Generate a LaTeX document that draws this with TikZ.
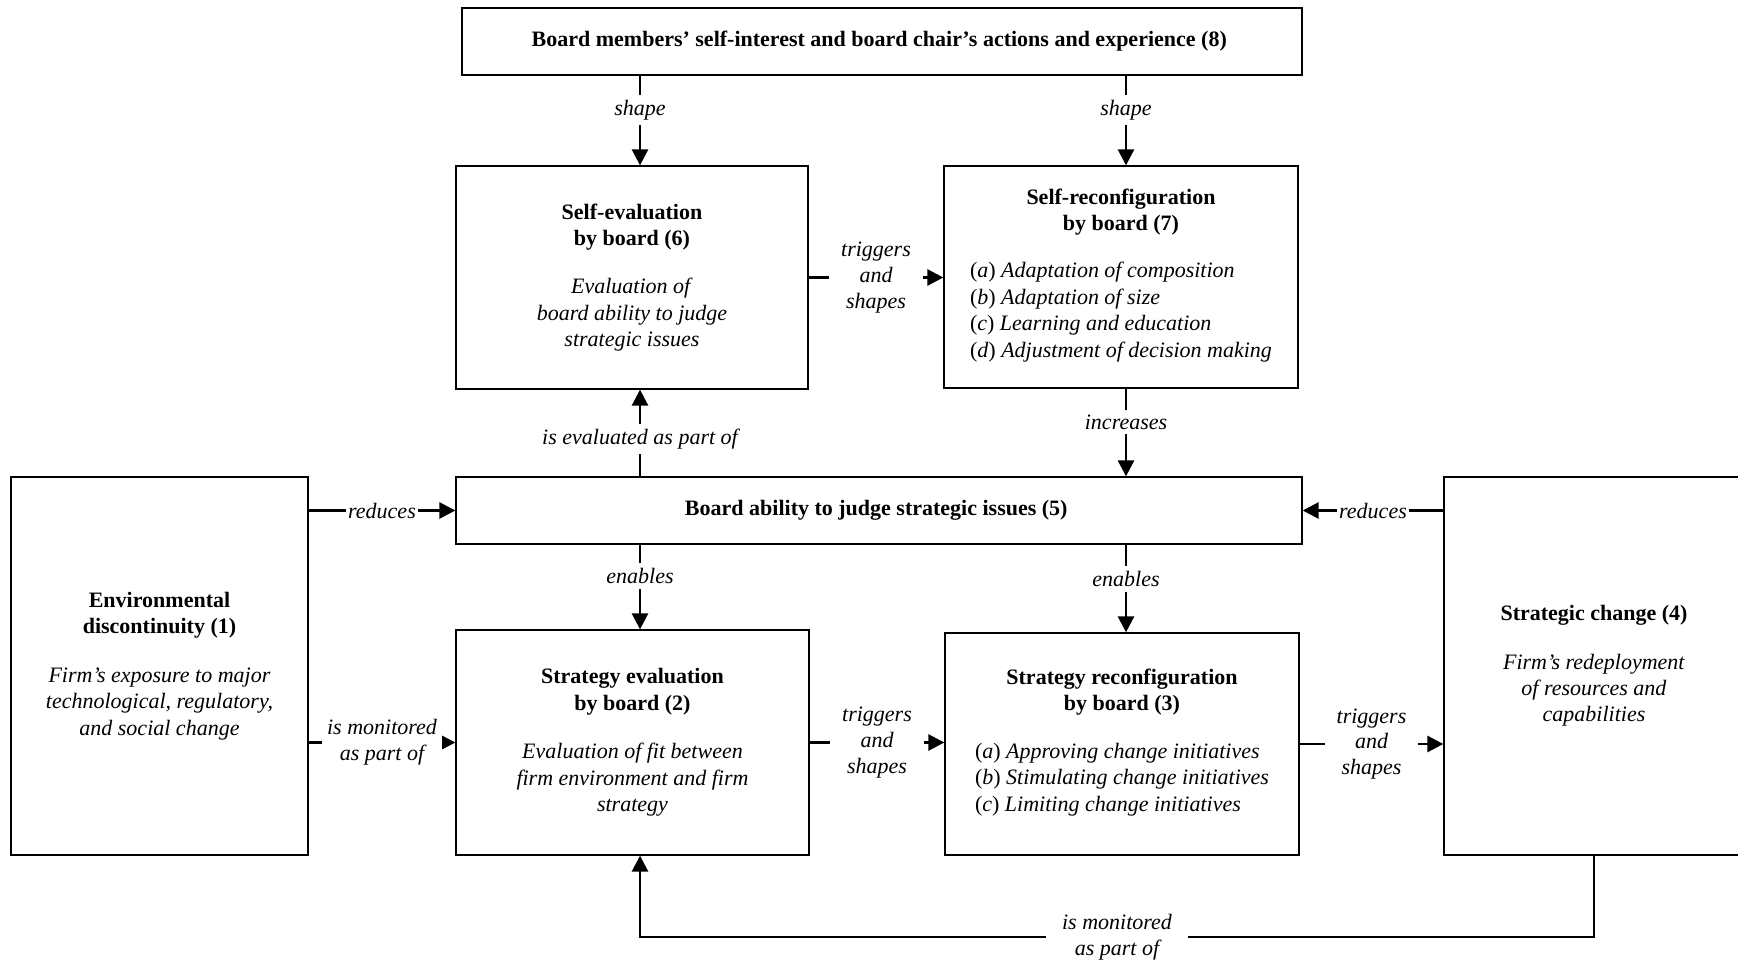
\documentclass[tikz,border=0pt]{standalone}
\usepackage{fontspec}
\setmainfont{Liberation Serif}
\usepackage{tikz}
\usetikzlibrary{arrows.meta,positioning}

\begin{document}
\begin{tikzpicture}[
  x=0.5pt, y=-0.5pt,
  font=\fontsize{11}{13.2}\selectfont,
  box/.style={
    rectangle, draw, line width=0.65pt,
    align=center, inner sep=0pt
  },
  lbl/.style={fill=white, font=\fontsize{11}{12.8}\selectfont\itshape,
    align=center, inner sep=2.5pt},
  arr/.style={-{Triangle[length=8pt,width=8pt]}, line width=1.35pt},
  ln/.style={line width=1.35pt}
]
\useasboundingbox (0,0) rectangle (1738,962);

% arrow columns
\coordinate (colL) at (640,0);
\coordinate (colR) at (1126,0);

\node[box, minimum width=420pt, minimum height=33.5pt] (b8) at (882,41.5) {
  \textbf{Board members’ self-interest and board chair’s actions and experience (8)}
};

\node[box, minimum width=176pt, minimum height=111.5pt] (b6) at (632,277.5) {
  \textbf{Self-evaluation}\\
  \textbf{by board (6)}\\[11pt]
  \textit{Evaluation of}\\
  \textit{board ability to judge}\\
  \textit{strategic issues}
};

\node[box, minimum width=177pt, minimum height=111pt] (b7) at (1121,277) {
  \textbf{Self-reconfiguration}\\
  \textbf{by board (7)}\\[11pt]
  \begin{tabular}{@{}l@{}}
  (\textit{a}) \textit{Adaptation of composition}\\
  (\textit{b}) \textit{Adaptation of size}\\
  (\textit{c}) \textit{Learning and education}\\
  (\textit{d}) \textit{Adjustment of decision making}
  \end{tabular}
};

\node[box, minimum width=423pt, minimum height=33.5pt] (b5) at (879,510.5) {
  \textbf{Board ability to judge strategic issues (5)}
};

\node[box, minimum width=148.5pt, minimum height=189pt] (b1) at (159.5,666) {
  \textbf{Environmental}\\
  \textbf{discontinuity (1)}\\[11pt]
  \textit{Firm’s exposure to major}\\
  \textit{technological, regulatory,}\\
  \textit{and social change}
};

\node[box, minimum width=176.5pt, minimum height=112.5pt] (b2) at (632.5,742.5) {
  \textbf{Strategy evaluation}\\
  \textbf{by board (2)}\\[11pt]
  \textit{Evaluation of fit between}\\
  \textit{firm environment and firm}\\
  \textit{strategy}
};

\node[box, minimum width=177pt, minimum height=111pt] (b3) at (1122,744) {
  \textbf{Strategy reconfiguration}\\
  \textbf{by board (3)}\\[11pt]
  \begin{tabular}{@{}l@{}}
  (\textit{a}) \textit{Approving change initiatives}\\
  (\textit{b}) \textit{Stimulating change initiatives}\\
  (\textit{c}) \textit{Limiting change initiatives}
  \end{tabular}
};

\node[box, minimum width=150pt, minimum height=189pt] (b4) at (1594,666) {
  \textbf{Strategic change (4)}\\[11pt]
  \textit{Firm’s redeployment}\\
  \textit{of resources and}\\
  \textit{capabilities}
};

% top row
\draw[arr] (b8.south -| colL) -- node[lbl, pos=0.38] {shape} (b6.north -| colL);
\draw[arr] (b8.south -| colR) -- node[lbl, pos=0.38] {shape} (b7.north -| colR);
\draw[arr] (b6.east) -- node[lbl, inner xsep=6pt] {triggers\\and\\shapes} (b6.east -| b7.west);

% around the board ability
\draw[arr] (b5.north -| colL) -- node[lbl, pos=0.43] {is evaluated as part of} (b6.south -| colL);
\draw[arr] (b7.south -| colR) -- node[lbl, pos=0.38] {increases} (b5.north -| colR);
\draw[arr] (b1.east |- b5.west) -- node[lbl, inner sep=1pt] {reduces} (b5.west);
\draw[arr] (b4.west |- b5.east) -- node[lbl, inner sep=1pt] {reduces} (b5.east);
\draw[arr] (b5.south -| colL) -- node[lbl, pos=0.37] {enables} (b2.north -| colL);
\draw[arr] (b5.south -| colR) -- node[lbl, pos=0.39] {enables} (b3.north -| colR);

% bottom row
\draw[arr] (b1.east |- b2.west) -- node[lbl] {is monitored\\as part of} (b2.west);
\draw[arr] (b2.east) -- node[lbl, inner xsep=6pt] {triggers\\and\\shapes} (b2.east -| b3.west);
\draw[arr] (b3.east) -- node[lbl, inner xsep=6pt] {triggers\\and\\shapes} (b3.east -| b4.west);

% feedback loop
\coordinate (loop) at (1594,937);
\draw[arr] (b4.south) -- (loop) -- node[lbl, inner xsep=8pt] {is monitored\\as part of} (loop -| colL) -- (b2.south -| colL);

\end{tikzpicture}
\end{document}
